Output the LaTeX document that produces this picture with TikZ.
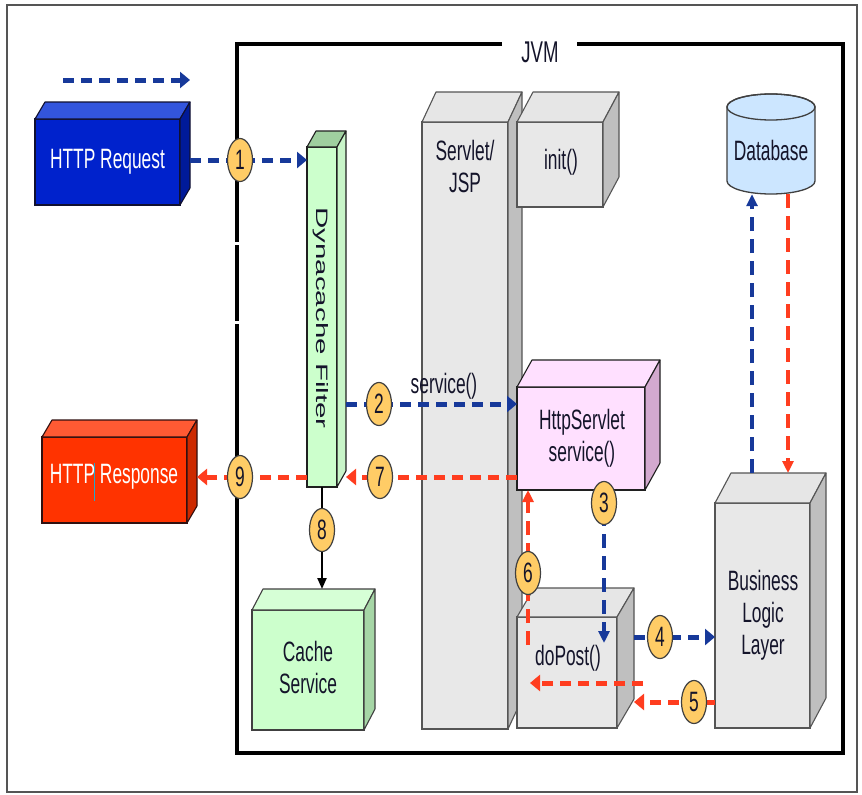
\documentclass[tikz,border=0pt]{standalone}
\usepackage{fontspec}
\setmainfont{Liberation Sans}
\newfontfamily\nfc{Liberation Sans}[FakeStretch=0.62]
\newfontfamily\nfn{Liberation Sans}
\usetikzlibrary{arrows.meta,shapes.geometric,calc}
\definecolor{rqF}{HTML}{0022CC}\definecolor{rqT}{HTML}{3355DD}\definecolor{rqS}{HTML}{001A99}\definecolor{rqO}{HTML}{101030}
\definecolor{rsF}{HTML}{FF3300}\definecolor{rsT}{HTML}{FF5A33}\definecolor{rsS}{HTML}{CC2900}\definecolor{rsO}{HTML}{301010}
\definecolor{dyF}{HTML}{CCFFCC}\definecolor{dyT}{HTML}{9FCF9F}\definecolor{dyS}{HTML}{C8F5C8}\definecolor{dyO}{HTML}{202020}
\definecolor{chF}{HTML}{CCFFCC}\definecolor{chT}{HTML}{D6FFD6}\definecolor{chS}{HTML}{A6D6A6}\definecolor{chO}{HTML}{404040}
\definecolor{grF}{HTML}{E8E8E8}\definecolor{grT}{HTML}{E6E6E6}\definecolor{grS}{HTML}{BFBFBF}\definecolor{grO}{HTML}{555555}
\definecolor{hsF}{HTML}{FFE0FF}\definecolor{hsT}{HTML}{FFE0FF}\definecolor{hsS}{HTML}{D3A9CF}\definecolor{hsO}{HTML}{202020}
\definecolor{dbF}{HTML}{CCE6FF}\definecolor{dbO}{HTML}{404040}
\definecolor{numF}{HTML}{FFCC66}\definecolor{numO}{HTML}{404040}
\definecolor{blu}{HTML}{17399A}\definecolor{redc}{HTML}{FF3D1F}
\definecolor{txtc}{HTML}{14142A}\definecolor{frameC}{HTML}{555555}\definecolor{caretC}{HTML}{22AACC}
\newcommand\cubebox[7]{%
\node[draw=#7O, fill=#7F, line width=1.1pt, minimum width=#4pt, minimum height=#5pt, anchor=north west, inner sep=0pt, outer sep=0pt] (#1) at (#2,#3) {};
\filldraw[draw=#7O, fill=#7T, line width=1.1pt, line join=round] (#1.north west) -- ++(#6) -- ($(#1.north east)+(#6)$) -- (#1.north east) -- cycle;
\filldraw[draw=#7O, fill=#7S, line width=1.1pt, line join=round] (#1.north east) -- ++(#6) -- ($(#1.south east)+(#6)$) -- (#1.south east) -- cycle;
}
\begin{document}
\begin{tikzpicture}[x=1pt,y=-1pt,
  lbl/.style={font=\nfc\fontsize{28}{32}\selectfont, text=txtc, align=center, inner sep=0pt},
  num/.style={ellipse, draw=numO, fill=numF, line width=1.2pt, minimum width=25pt, minimum height=43pt, inner sep=0pt, font=\nfc\fontsize{28}{28}\selectfont, text=txtc},
  bluarr/.style={draw=blu, line width=5pt, dash pattern=on 11pt off 7pt, -{Triangle[length=10pt,width=16pt]}},
  redarr/.style={draw=redc, line width=5pt, dash pattern=on 11pt off 7pt, -{Triangle[length=10pt,width=16pt]}},
  bluv/.style={draw=blu, line width=3.5pt, dash pattern=on 14pt off 8pt, -{Triangle[length=12pt,width=11pt]}},
  redv/.style={draw=redc, line width=3.5pt, dash pattern=on 14pt off 8pt, -{Triangle[length=12pt,width=11pt]}},
]
\useasboundingbox (0,0) rectangle (862,795);
\fill[white] (0,0) rectangle (862,795);
\draw[draw=frameC, line width=2.5pt] (7,5) rectangle (857,792);
% JVM frame
\coordinate (jl) at (502,44); \coordinate (jr) at (577,44);
\draw[line width=4.5pt, line join=miter] (jl) -- (237,44) -- (237,753) -- (843,753) -- (843,44) -- (jr);
\fill[white] (234,242) rectangle (240,244.5);
\fill[white] (234,321) rectangle (240,323.5);
\node[font=\nfc\fontsize{30}{30}\selectfont, text=txtc, inner sep=0pt] (jvm) at (540,52) {JVM};
% legend
\coordinate (lg1) at (63,80); \coordinate (lg2) at (190,80);
\draw[bluarr] (lg1) -- (lg2);
% boxes
\cubebox{req}{35}{119}{145}{86}{10,-17}{rq}
\cubebox{resp}{42}{437}{145}{86}{10,-17}{rs}
\cubebox{dyn}{307}{147}{30}{340}{9,-16}{dy}
\cubebox{cache}{252}{610}{112}{120}{11,-21}{ch}
\cubebox{serv}{422}{122}{86}{607}{14,-30}{gr}
\cubebox{init}{517}{122}{86}{85}{16,-30}{gr}
\cubebox{hs}{517}{387}{128}{103}{15,-27}{hs}
\cubebox{dp}{517}{617}{100}{111}{17,-29}{gr}
\cubebox{bl}{715}{503}{95}{225}{16,-30}{gr}
% database
\filldraw[draw=dbO, fill=dbF, line width=1.3pt] (727,107) -- (727,181) arc[start angle=180, end angle=0, x radius=44, y radius=13] -- (815,107) arc[start angle=0, end angle=-180, x radius=44, y radius=13] -- cycle;
\draw[draw=dbO, line width=1.3pt] (771,107) ellipse [x radius=44, y radius=13];
\node[lbl, minimum width=88pt, minimum height=100pt] (db) at (771,144) {};
% texts
\node[lbl, text=white] (reqt) at (req.center) {HTTP Request};
\node[lbl, text=white] (respt) at (114,477) {HTTP Response};
\draw[caretC, line width=1.3pt] ($(respt.west)+(45,-14)$) coordinate (ca1) -- ($(respt.west)+(45,24)$) coordinate (ca2);
\node[lbl, rotate=-90] (dynt) at (321,318) {\scalebox{1}[0.56]{\nfn\fontsize{29.5}{30}\selectfont Dynacache Filter}};
\node[lbl] (cachet) at (308,667) {Cache\\Service};
\node[lbl] (servt) at (465,166) {Servlet/\\JSP};
\node[lbl] (initt) at (561,162) {init()};
\node[lbl] (hst) at (582,438) {HttpServlet\\service()};
\node[lbl] (dpt) at (568,658) {doPost()};
\node[lbl] (blt) at (763,615) {Business\\Logic\\Layer};
\node[lbl] (dbt) at (771,150) {Database};
\node[lbl] (svc) at (444,386) {service()};
% connectors
\coordinate (c1p) at (240,160); \coordinate (c2p) at (379,404); \coordinate (c3p) at (604,503);
\coordinate (c4p) at (660,637); \coordinate (c5p) at (694,702); \coordinate (c6p) at (528,573);
\coordinate (c7p) at (380,477); \coordinate (c8p) at (322,530); \coordinate (c9p) at (240,477);
\draw[bluarr] ($(req.east |- c1p)+(10,0)$) -- (dyn.west |- c1p);
\draw[bluarr] ($(dyn.east |- c2p)+(9,0)$) -- (hs.west |- c2p);
\draw[redarr] (hs.west |- c7p) -- ($(dyn.east |- c7p)+(9,0)$);
\draw[redarr] (dyn.west |- c9p) -- ($(resp.east |- c9p)+(10,0)$);
\draw[line width=2.2pt, -{Triangle[length=11pt,width=9pt]}] (dyn.south) -- ($(dyn.south |- cache.north)+(0,-21)$);
\draw[bluv] (hs.south -| c3p) -- ($(dp.north -| c3p)+(0,26)$);
\draw[redv] ($(dp.north -| c6p)+(0,28)$) -- (hs.south -| c6p);
\draw[bluarr] ($(dp.east |- c4p)+(17,0)$) -- (bl.west |- c4p);
\draw[redarr] (bl.west |- c5p) -- ($(dp.east |- c5p)+(17,0)$);
\coordinate (rin1) at (643,683); \coordinate (rin2) at (530,683);
\draw[redarr] (rin1) -- (rin2);
\coordinate (blb) at ($(bl.north west)+(37,-30)$);
\coordinate (blr) at ($(bl.north west)+(73,-30)$);
\draw[bluv] (blb) -- (db.south -| blb);
\draw[redv] (db.south -| blr) -- (blr);
% numbered circles
\node[num] (c1) at (c1p) {1};
\node[num] (c2) at (c2p) {2};
\node[num] (c3) at (c3p) {3};
\node[num] (c4) at (c4p) {4};
\node[num] (c5) at (c5p) {5};
\node[num] (c6) at (c6p) {6};
\node[num] (c7) at (c7p) {7};
\node[num] (c8) at (c8p) {8};
\node[num] (c9) at (c9p) {9};
\end{tikzpicture}
\end{document}
